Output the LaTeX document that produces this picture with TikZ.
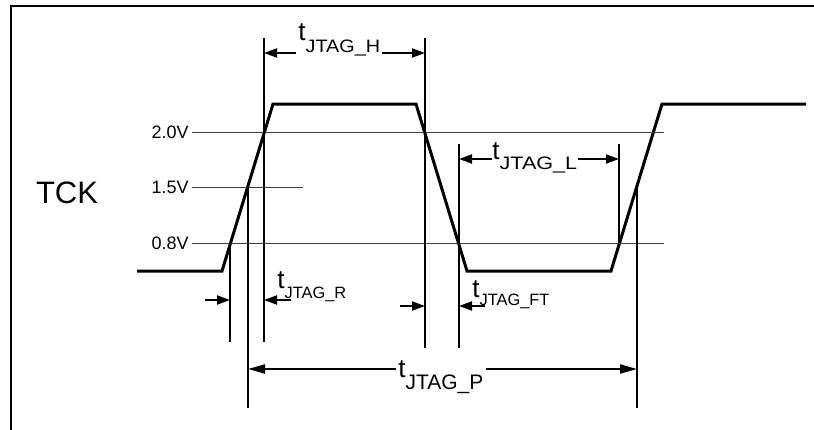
\documentclass[tikz,border=0pt]{standalone}
\usepackage{fontspec}
\usepackage{graphicx}
\setmainfont{Liberation Sans}
\usetikzlibrary{arrows.meta}
% t with the JTAG_ index: [#1] stretch, #2 index, #3 index size, #4 drop
\newcommand{\tjtag}[4][1]{t\raisebox{-#4}{\scalebox{#1}[1]{\fontsize{#3}{#3}\selectfont JTAG\_#2}}}
\tikzset{
	wave/.style={line width=1.5pt},
	level/.style={line width=0.5pt, black!75},
	ext/.style={line width=0.65pt},
	dim/.style={line width=1pt, -{Triangle[length=6.5pt,width=4.5pt]}},
	tlabel/.style={font=\fontsize{13}{13}\selectfont, inner sep=1pt, anchor=base west},
	vlabel/.style={font=\fontsize{9}{9}\selectfont, inner sep=1.5pt, anchor=east},
}
\begin{document}
\begin{tikzpicture}[x=0.5pt,y=-0.5pt]
	\useasboundingbox (0,0) rectangle (814,429);
	% the frame
	\draw[line width=1pt] (11,431) -- (11,6) -- (816,6);
	% the TCK waveform
	\draw[wave] (137,271) -- (222,271) -- (273,104) -- (416,104)
		-- (467,271) -- (611,271) -- (662,104) -- (806,104);
	\node[font=\fontsize{15.5}{15.5}\selectfont] (tck) at (67,193) {TCK};
	% the voltage levels
	\coordinate (v20) at (192,132);
	\coordinate (v15) at (192,187);
	\coordinate (v08) at (192,243);
	\draw[level] (v20) -- (664,132);
	\draw[level] (v15) -- (303,187);
	\draw[level] (v08) -- (664,243);
	\node[vlabel] (l20) at (v20) {2.0V};
	\node[vlabel] (l15) at (v15) {1.5V};
	\node[vlabel] (l08) at (v08) {0.8V};
	% extension lines
	\draw[ext] (230,243) -- (230,342);
	\draw[ext] (248,187) -- (248,408);
	\draw[ext] (264,38) -- (264,342);
	\draw[ext] (425,38) -- (425,348);
	\draw[ext] (459,144) -- (459,348);
	\draw[ext] (619,144) -- (619,243);
	\draw[ext] (637,187) -- (637,408);
	% t_JTAG_H
	\coordinate (hA) at (264,53);
	\coordinate (hB) at (425,53);
	\node[tlabel] (tH) at (296,40) {\tjtag[1.1]{H}{9}{6pt}};
	\draw[dim] (tH.west |- hA) -- (hA);
	\draw[dim] (tH.east |- hB) -- (hB);
	% t_JTAG_L
	\coordinate (lA) at (459,159);
	\coordinate (lB) at (619,159);
	\node[tlabel, inner sep=0pt] (tL) at (492,159) {\tjtag[1.2]{L}{9}{5pt}};
	\draw[dim] (tL.west |- lA) -- (lA);
	\draw[dim] (tL.east |- lB) -- (lB);
	% t_JTAG_P
	\coordinate (pA) at (248,369);
	\coordinate (pB) at (637,369);
	\node[tlabel] (tP) at (396,377) {\tjtag{P}{10.5}{6pt}};
	\draw[dim, -{Triangle[length=8.5pt,width=4.5pt]}] (tP.west |- pA) -- (pA);
	\draw[dim, -{Triangle[length=8.5pt,width=4.5pt]}] (tP.east |- pB) -- (pB);
	% t_JTAG_R
	\coordinate (rA) at (205,300);
	\coordinate (rB) at (230,300);
	\coordinate (rC) at (264,300);
	\coordinate (rD) at (291,300);
	\node[tlabel, inner sep=0pt] (tR) at (277,288) {\tjtag{R}{8.2}{5pt}};
	\draw[dim] (rA) -- (rB);
	\draw[dim] (rD) -- (rC);
	% t_JTAG_FT
	\coordinate (fA) at (400,306);
	\coordinate (fB) at (425,306);
	\coordinate (fC) at (459,306);
	\coordinate (fD) at (485,306);
	\node[tlabel, inner sep=0pt] (tF) at (472,297) {\tjtag{FT}{8.2}{4pt}};
	\draw[dim] (fA) -- (fB);
	\draw[dim] (fD) -- (fC);
\end{tikzpicture}
\end{document}
